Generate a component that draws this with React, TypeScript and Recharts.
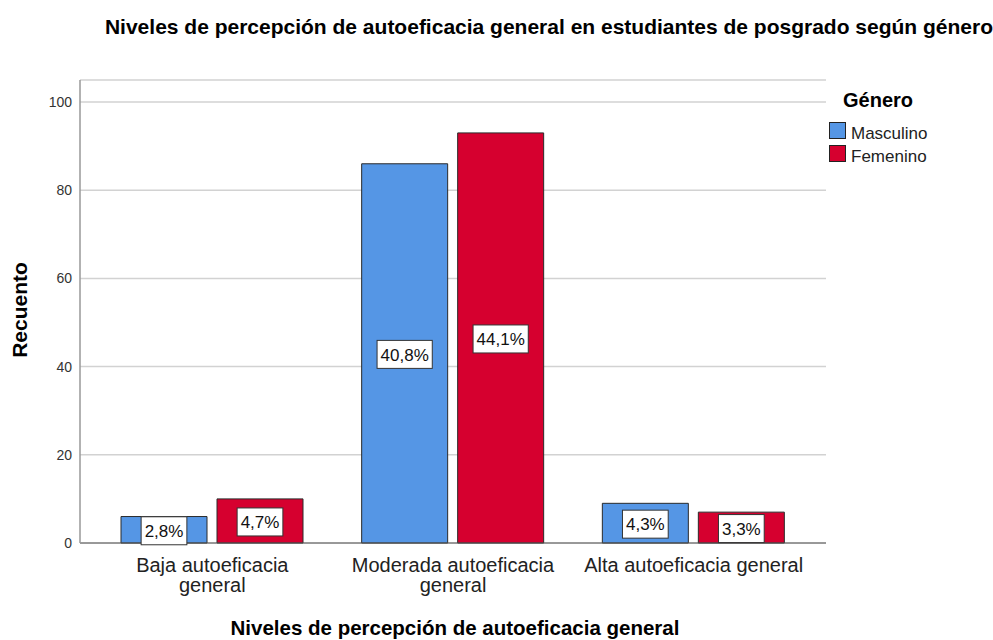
import { BarChart, Bar, XAxis, YAxis, CartesianGrid, LabelList } from 'recharts';

const categories = ['Baja autoeficacia general', 'Moderada autoeficacia general', 'Alta autoeficacia general'];
const tickLines = [['Baja autoeficacia', 'general'], ['Moderada autoeficacia', 'general'], ['Alta autoeficacia general']];
const masculino = [6, 86, 9];
const femenino = [10, 93, 7];
const masculinoPct = ['2,8%', '40,8%', '4,3%'];
const femeninoPct = ['4,7%', '44,1%', '3,3%'];
const yTicks = [0, 20, 40, 60, 80, 100];

const series = [
  { key: 'masculino', label: 'Masculino', color: '#5596E5' },
  { key: 'femenino', label: 'Femenino', color: '#D6002F' },
];

const rows = categories.map((c, i) => ({
  category: c,
  masculino: masculino[i],
  femenino: femenino[i],
  masculinoPct: masculinoPct[i],
  femeninoPct: femeninoPct[i],
}));

const FONT = '"Liberation Sans", Arial, sans-serif';

// rough Arial advance widths, only used to size the label boxes
const charW = (ch: string) => (ch === ',' ? 0.278 : ch === '%' ? 0.889 : 0.556);

const PctLabel = (props: any) => {
  const { x, y, width, height, value } = props;
  const cx = x + width / 2;
  const cy = y + height / 2 + 1;
  const w = String(value).split('').reduce((s, ch) => s + charW(ch), 0) * 17 + 7;
  const h = 28;
  return (
    <g>
      <rect x={cx - w / 2} y={cy - h / 2} width={w} height={h} fill="#fff" stroke="#333" strokeWidth={1} />
      <text x={cx} y={cy} dy="0.36em" textAnchor="middle" fontSize={17} fontFamily={FONT} fill="#111">
        {value}
      </text>
    </g>
  );
};

const CategoryTick = (props: any) => {
  const { x, y, index } = props;
  const lines = tickLines[index] || [];
  return (
    <g>
      {lines.map((ln, i) => (
        <text key={i} x={x} y={y + 29 + i * 20} textAnchor="middle" fontSize={20} fontFamily={FONT} fill="#222">
          {ln}
        </text>
      ))}
    </g>
  );
};

export default function App() {
  return (
    <div style={{ position: 'absolute', left: 0, top: 0, width: 993, height: 640, background: '#fff' }}>
      <BarChart
        width={993}
        height={640}
        data={rows}
        margin={{ top: 80, right: 167, bottom: 0, left: 0 }}
        barSize={86}
        barGap={10}
      >
        <CartesianGrid vertical={false} stroke="#d2d2d2" strokeWidth={1.5} />
        <XAxis
          dataKey="category"
          height={97}
          padding={{ left: 12, right: 12 }}
          tickLine={false}
          tickSize={0}
          tickMargin={0}
          axisLine={{ stroke: '#555' }}
          tick={<CategoryTick />}
          interval={0}
        />
        <YAxis
          width={80}
          domain={[0, 105]}
          ticks={yTicks}
          tickLine={false}
          axisLine={{ stroke: '#999', strokeWidth: 1.5 }}
          tick={{ fontSize: 14, fill: '#333', fontFamily: FONT }}
        />
        {series.map((s) => (
          <Bar key={s.key} dataKey={s.key} fill={s.color} stroke="#2a2a2a" strokeWidth={1} isAnimationActive={false}>
            <LabelList dataKey={`${s.key}Pct`} content={<PctLabel />} />
          </Bar>
        ))}
      </BarChart>
      <svg width={993} height={640} style={{ position: 'absolute', left: 0, top: 0, pointerEvents: 'none' }}>
        <text x={549} y={34} textAnchor="middle" fontSize={21} fontWeight="bold" fontFamily={FONT} fill="#000">
          Niveles de percepción de autoeficacia general en estudiantes de posgrado según género
        </text>
        <text x={455} y={635} textAnchor="middle" fontSize={20.5} fontWeight="bold" fontFamily={FONT} fill="#000">
          Niveles de percepción de autoeficacia general
        </text>
        <text
          x={27}
          y={310}
          textAnchor="middle"
          fontSize={21}
          fontWeight="bold"
          fontFamily={FONT}
          fill="#000"
          transform="rotate(-90 27 310)"
        >
          Recuento
        </text>
        <text x={843} y={107} fontSize={20} fontWeight="bold" fontFamily={FONT} fill="#000">
          Género
        </text>
        {series.map((s, i) => (
          <g key={s.key}>
            <rect x={829.5} y={122.5 + i * 23} width={16} height={16} fill={s.color} stroke="#222" />
            <text x={851} y={139 + i * 23} fontSize={17} fontFamily={FONT} fill="#222">
              {s.label}
            </text>
          </g>
        ))}
      </svg>
    </div>
  );
}
